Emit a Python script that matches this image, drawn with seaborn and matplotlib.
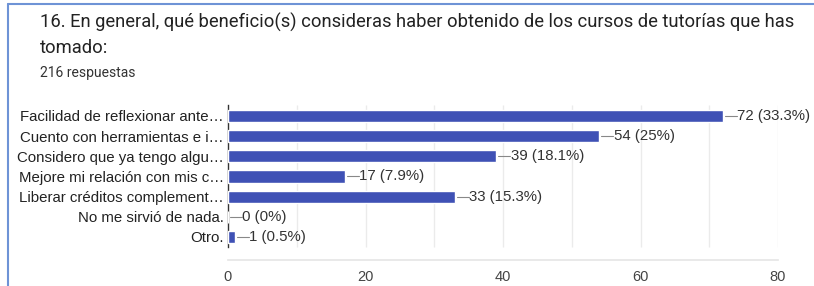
import matplotlib
matplotlib.use("Agg")
import matplotlib.pyplot as plt
import seaborn as sns
import pandas as pd
from matplotlib.lines import Line2D

opciones = [
    "Facilidad de reflexionar ante…",
    "Cuento con herramientas e i…",
    "Considero que ya tengo algu…",
    "Mejore mi relación con mis c…",
    "Liberar créditos complement…",
    "No me sirvió de nada.",
    "Otro.",
]
respuestas = [72, 54, 39, 17, 33, 0, 1]
porcentajes = ["33.3%", "25%", "18.1%", "7.9%", "15.3%", "0%", "0.5%"]
total = 216

sns.set_theme(style="white")
plt.rcParams["font.family"] = ["Liberation Sans", "DejaVu Sans"]

df = pd.DataFrame({"opcion": opciones, "n": respuestas})

fig = plt.figure(figsize=(8.14, 2.86), dpi=100)
ax = fig.add_axes([228 / 814, 1 - 260 / 286, 550 / 814, (260 - 103) / 286])

sns.barplot(data=df, x="n", y="opcion", color="#3f51b5", width=0.6,
            saturation=1, ax=ax, zorder=3)

ax.set_xlim(0, 80)
ax.set_ylim(7.14, -0.64)
ax.set_xticks(range(0, 81, 20))
ax.vlines(range(10, 81, 10), -0.55, 6.5, color="#ebebeb", lw=1, zorder=1)
ax.set_xlabel("")
ax.set_ylabel("")
for s in ["top", "right"]:
    ax.spines[s].set_visible(False)
ax.spines["left"].set_color("#333333")
ax.spines["left"].set_linewidth(1)
ax.spines["left"].set_bounds(-0.55, 6.5)
ax.spines["bottom"].set_color("#e6e6e6")
ax.tick_params(axis="x", length=0, pad=7, labelsize=10.5, labelcolor="#444444")
ax.tick_params(axis="y", length=0, pad=3, labelsize=10.8, labelcolor="#222222")

for i, (n, p) in enumerate(zip(respuestas, porcentajes)):
    ax.plot([n + 0.3, n + 2.0], [i, i], color="#888888", lw=0.8, zorder=4)
    ax.text(n + 2.1, i, f"{n} ({p})", va="center", ha="left",
            fontsize=10.8, color="#333333")

fig.text(40 / 814, 1 - 22 / 286,
         "16. En general, qué beneficio(s) consideras haber obtenido de los cursos de tutorías que has",
         fontsize=13.2, color="#222222", va="center", ha="left", family="Roboto")
fig.text(40 / 814, 1 - 48 / 286, "tomado:", fontsize=13.2, color="#222222",
         va="center", ha="left", family="Roboto")
fig.text(40 / 814, 1 - 73 / 286, f"{total} respuestas", fontsize=10,
         color="#333333", va="center", ha="left", family="Roboto")

# card border (top and left edges)
fig.add_artist(Line2D([8 / 814, 1], [1 - 4 / 286, 1 - 4 / 286],
                      transform=fig.transFigure, color="#6e93d6", lw=1.5))
fig.add_artist(Line2D([8 / 814, 8 / 814], [0, 1 - 4 / 286],
                      transform=fig.transFigure, color="#6e93d6", lw=1.5))

fig.savefig("out.png", dpi=100)
